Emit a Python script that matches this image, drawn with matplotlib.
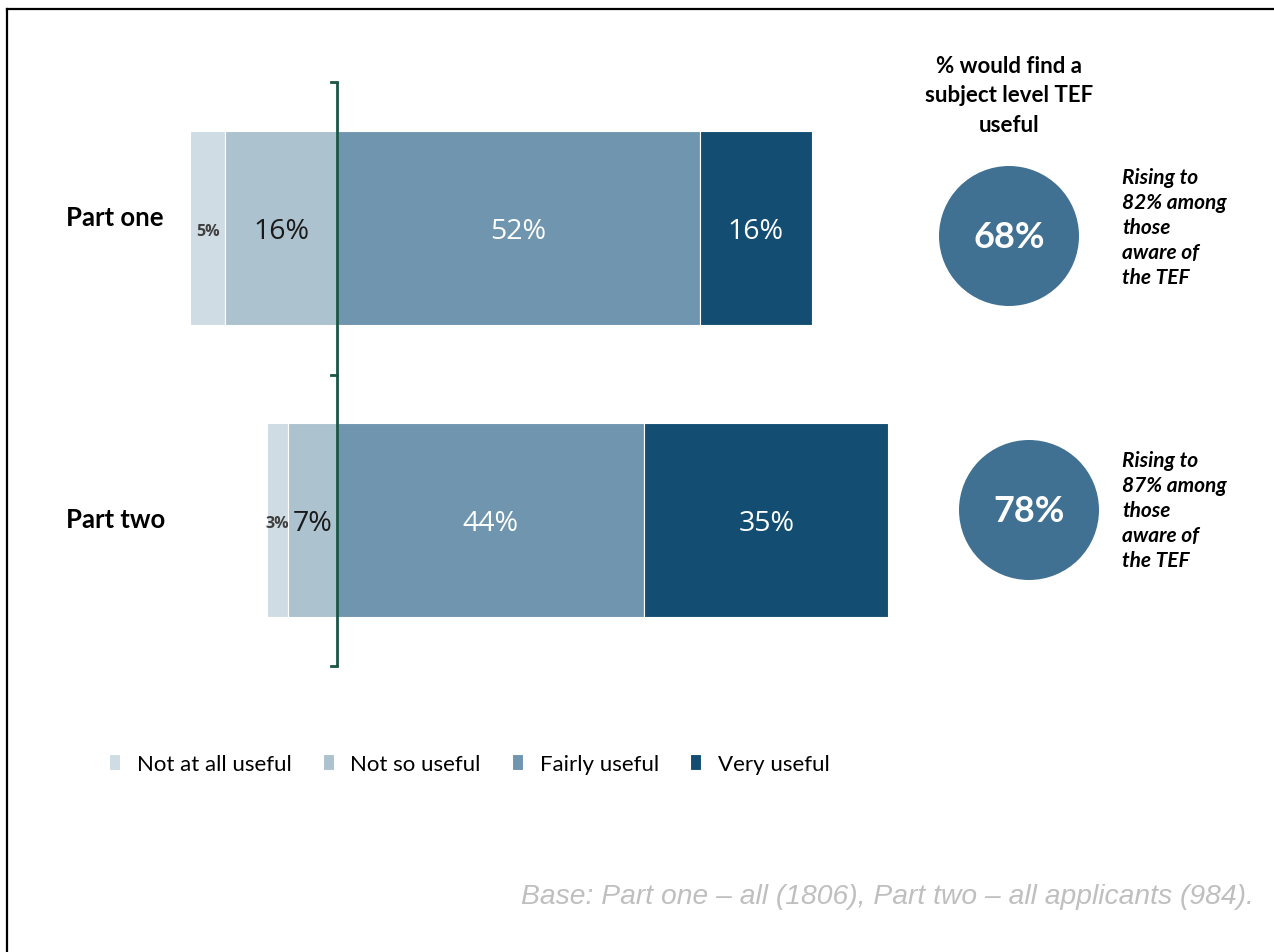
import matplotlib
matplotlib.use("Agg")
import matplotlib.pyplot as plt
import numpy as np
from matplotlib.patches import Circle

plt.rcParams['font.family'] = ['Lato', 'DejaVu Sans']

# data
groups = ['Part one', 'Part two']
categories = ['Not at all useful', 'Not so useful', 'Fairly useful', 'Very useful']
not_at_all = [5, 3]
not_so = [16, 7]
fairly = [52, 44]
very = [16, 35]
useful_total = ['68%', '78%']
aware_note = ['Rising to\n82% among\nthose\naware of\nthe TEF',
              'Rising to\n87% among\nthose\naware of\nthe TEF']
colors = ['#cfdce4', '#adc2cf', '#7095ae', '#134e72']
label_colors = ['#404040', '#1a1a1a', 'white', 'white']

W, H = 1274, 953
fig = plt.figure(figsize=(W / 100, H / 100), dpi=100)

# bar axes: x in percent (0 = split line), y in pixel rows
px_per_pct = 6.98
zero_px = 337
ax = fig.add_axes([0, 0, 1, 1])
ax.set_xlim(-zero_px / px_per_pct, (W - zero_px) / px_per_pct)
ax.set_ylim(H, 0)
ax.axis('off')

bar_y = [229, 521]
bar_h = 194

na = np.array(not_at_all)
ns = np.array(not_so)
fa = np.array(fairly)
vu = np.array(very)
lefts = [-(na + ns), -ns, np.zeros(2), fa]
widths = [na, ns, fa, vu]

bars = []
for i in range(4):
    b = ax.barh(bar_y, widths[i], left=lefts[i], height=bar_h, color=colors[i],
                edgecolor='white', linewidth=0.8, label=categories[i])
    bars.append(b)
    for j in range(2):
        v = widths[i][j]
        cx = lefts[i][j] + v / 2
        small = i == 0
        ax.text(cx, bar_y[j] + 3, f'{v}%', ha='center', va='center',
                color=label_colors[i],
                fontsize=11.5 if small else 20.5,
                fontweight='bold' if small else 'normal',
                family=['Open Sans', 'DejaVu Sans'])

# split bracket
br_col = '#1b5545'
ax.plot([0, 0], [83, 667], color=br_col, lw=2, solid_capstyle='butt', zorder=5)
for yy in [83, 376, 667]:
    ax.plot([-0.9, 0], [yy, yy], color=br_col, lw=2, zorder=5)

# overlay in pixel coordinates
ov = fig.add_axes([0, 0, 1, 1])
ov.set_xlim(0, W)
ov.set_ylim(H, 0)
ov.axis('off')

for j, g in enumerate(groups):
    ov.text(66, [218, 520][j], g, ha='left', va='center', fontsize=18.5,
            fontweight='bold', color='black')

ov.text(1009, 96, '% would find a\nsubject level TEF\nuseful', ha='center', va='center',
        fontsize=16, fontweight='bold', linespacing=1.5)

circ_xy = [(1009, 237), (1029, 511)]
for j in range(2):
    ov.add_patch(Circle(circ_xy[j], 70, color='#417192', lw=0))
    ov.text(circ_xy[j][0], circ_xy[j][1] + 1, useful_total[j], ha='center', va='center',
            color='white', fontsize=26, fontweight='bold')
    ov.text(1122, [228, 511][j], aware_note[j], ha='left', va='center', fontsize=15,
            fontweight='bold', style='italic', linespacing=1.32)

leg = ov.legend(handles=bars, labels=categories, loc='center left',
                bbox_to_anchor=(100 / W, 1 - 765 / H), ncol=4, frameon=False,
                fontsize=16, handlelength=0.5, handleheight=0.75, handletextpad=0.75,
                columnspacing=1.4, borderaxespad=0, borderpad=0.4)

ov.text(1254, 897, 'Base: Part one \u2013 all (1806), Part two \u2013 all applicants (984).',
        ha='right', va='center', fontsize=20.3, style='italic', color='#bfbfbf',
        family=['Liberation Sans', 'DejaVu Sans'])

# frame lines
ov.plot([7, W], [10, 10], color='black', lw=1.6)
ov.plot([7, 7], [10, H], color='black', lw=1.6)

fig.savefig('out.png', dpi=100, facecolor='white')
